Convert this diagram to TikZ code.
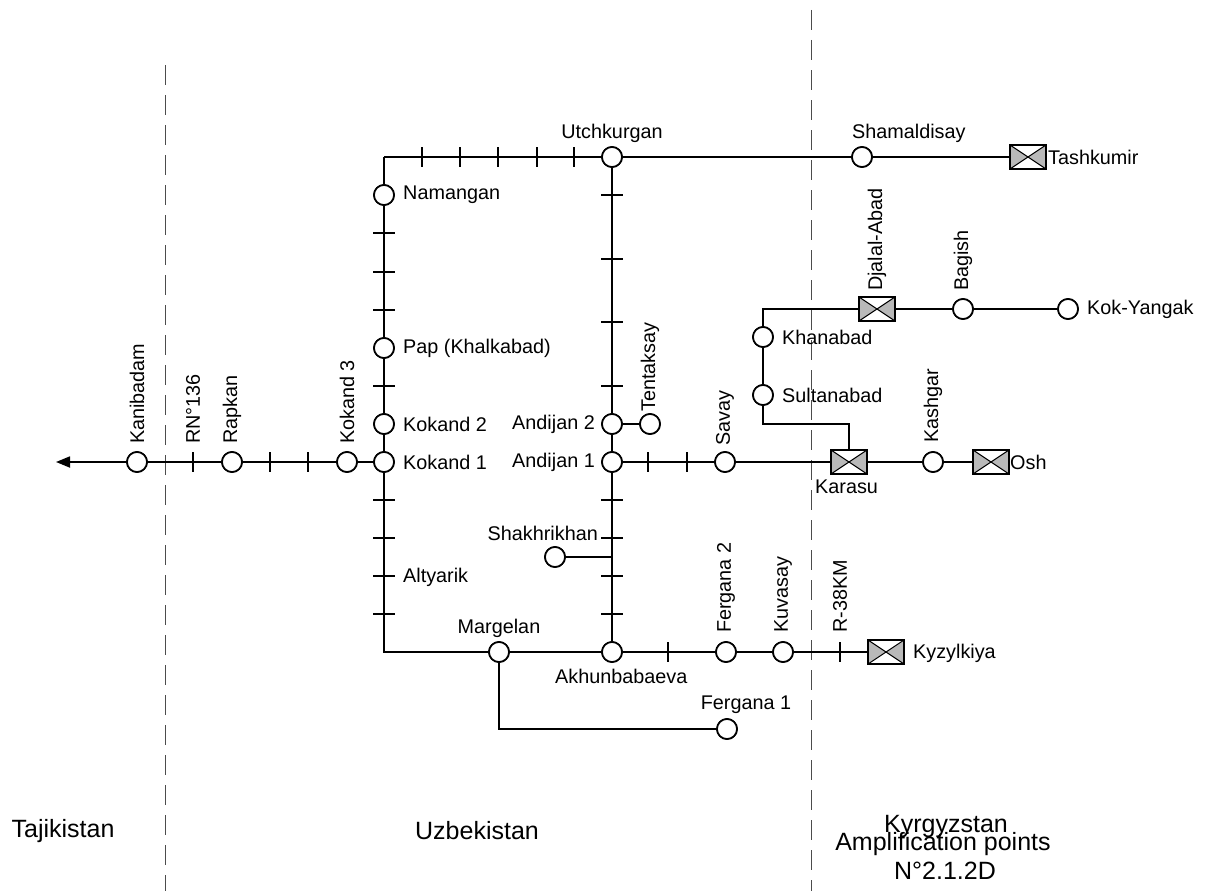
\documentclass[tikz,border=0pt]{standalone}
\usepackage{fontspec}
\setmainfont{Liberation Sans}
\usetikzlibrary{arrows.meta}
\begin{document}
\begin{tikzpicture}[x=1pt,y=-1pt,
  rail/.style={line width=1.8pt},
  border/.style={line width=1pt, dash pattern=on 20pt off 10pt, black!70},
  st/.style={circle, draw, line width=1.7pt, fill=white, minimum size=20pt, inner sep=0pt},
  bx/.style={rectangle, draw, line width=1.7pt, fill=white, minimum width=36pt, minimum height=24pt, inner sep=0pt,
    path picture={
      \fill[gray!55] (path picture bounding box.north west) -- (path picture bounding box.center) -- (path picture bounding box.south west) -- cycle;
      \fill[gray!55] (path picture bounding box.north east) -- (path picture bounding box.center) -- (path picture bounding box.south east) -- cycle;
      \draw[line width=1pt] (path picture bounding box.north west) -- (path picture bounding box.south east);
      \draw[line width=1pt] (path picture bounding box.south west) -- (path picture bounding box.north east);
    }},
  lbl/.style={inner sep=0pt, font=\fontsize{19.8}{22}\selectfont},
  vl/.style={lbl, rotate=90, anchor=west},
  big/.style={inner sep=0pt, font=\fontsize{25}{27}\selectfont}
]
\useasboundingbox (0,0) rectangle (1206,891);
\fill[white] (0,0) rectangle (1206,891);

% borders
\draw[border] (165,65) -- (165,891);
\draw[border] (811,10) -- (811,891);

% corner / junction coordinates
\coordinate (nw) at (384,157);
\coordinate (sw) at (384,652);
\coordinate (mdown) at (499,729);
\coordinate (jdj) at (763,309);
\coordinate (jsu) at (763,424);
\coordinate (jka) at (849,424);
\coordinate (jsh) at (612,557);
\coordinate (arrowend) at (56,462);

% stations
\node[st] (utch) at (612,157) {};
\node[st] (sham) at (862,157) {};
\node[bx] (tash) at (1028,157) {};
\node[st] (nam) at (384,195) {};
\node[st] (pap) at (384,348) {};
\node[st] (kok2) at (384,424) {};
\node[st] (kok1) at (384,462) {};
\node[st] (kok3) at (347,462) {};
\node[st] (rap) at (232,462) {};
\node[st] (kani) at (137,462) {};
\node[st] (and2) at (612,424) {};
\node[st] (tent) at (650,424) {};
\node[st] (and1) at (612,462) {};
\node[st] (sav) at (725,462) {};
\node[bx] (kar) at (849,462) {};
\node[st] (kash) at (933,462) {};
\node[bx] (osh) at (991,462) {};
\node[st] (khan) at (763,337) {};
\node[st] (sult) at (763,395) {};
\node[bx] (djal) at (877,309) {};
\node[st] (bag) at (963,309) {};
\node[st] (koky) at (1068,309) {};
\node[st] (shak) at (555,557) {};
\node[st] (marg) at (499,652) {};
\node[st] (akh) at (612,652) {};
\node[st] (ferg2) at (726,652) {};
\node[st] (kuv) at (783,652) {};
\node[bx] (kyz) at (886,652) {};
\node[st] (ferg1) at (727,729) {};

% lines
\draw[rail] (nw) -- (utch) -- (sham) -- (tash);
\draw[rail] (nw) -- (nam) -- (pap) -- (kok2) -- (kok1) -- (sw) -- (marg) -- (akh) -- (ferg2) -- (kuv) -- (kyz);
\draw[rail] (utch) -- (and2) -- (and1) -- (akh);
\draw[rail] (and2) -- (tent);
\draw[rail] (and1) -- (sav) -- (kar) -- (kash) -- (osh);
\draw[rail] (kok1) -- (kok3) -- (rap) -- (kani);
\draw[rail, -{Triangle[length=14pt,width=11pt]}] (kani) -- (arrowend);
\draw[rail] (jsh) -- (shak);
\draw[rail] (marg) -- (mdown) -- (ferg1);
\draw[rail] (kar) -- (jka) -- (jsu) -- (sult) -- (khan) -- (jdj) -- (djal) -- (bag) -- (koky);

% redraw nodes on top
\foreach \n in {utch,sham,nam,pap,kok2,kok1,kok3,rap,kani,and2,tent,and1,sav,kash,khan,sult,bag,koky,shak,marg,akh,ferg2,kuv,ferg1}
  \node[st] at (\n) {};
\foreach \n in {tash,kar,osh,djal,kyz}
  \node[bx] at (\n) {};

% ticks on horizontal lines (vertical strokes)
\foreach \x/\y in {422/157,460/157,498/157,537/157,574/157,193/462,270/462,308/462,648/462,687/462,668/652,840/652}
  \draw[rail] (\x,\y-10) -- (\x,\y+10);
% ticks on vertical lines (horizontal strokes)
\foreach \y in {233,272,310,386,500,538,576,614}
  \draw[rail] (373,\y) -- (395,\y);
\foreach \y in {195,259,322,386,500,538,576,614}
  \draw[rail] (601,\y) -- (623,\y);

% labels
\node[lbl] at (612,133) {Utchkurgan};
\node[lbl, anchor=west] at (852,133) {Shamaldisay};
\node[lbl, anchor=west] at (1048,157) {Tashkumir};
\node[lbl, anchor=west] at (403,195) {Namangan};
\node[lbl, anchor=west] at (403,348) {Pap (Khalkabad)};
\node[lbl, anchor=west] at (403,424) {Kokand 2};
\node[lbl, anchor=west] at (403,462) {Kokand 1};
\node[lbl, anchor=east] at (595,424) {Andijan 2};
\node[lbl, anchor=east] at (595,462) {Andijan 1};
\node[lbl, anchor=east] at (598,533) {Shakhrikhan};
\node[lbl, anchor=west] at (403,577) {Altyarik};
\node[lbl] at (499,628) {Margelan};
\node[lbl, anchor=west] at (555,676) {Akhunbabaeva};
\node[lbl] at (746,705) {Fergana 1};
\node[lbl, anchor=west] at (913,653) {Kyzylkiya};
\node[lbl, anchor=west] at (815,487) {Karasu};
\node[lbl, anchor=west] at (1010,462) {Osh};
\node[lbl, anchor=west] at (782,337) {Khanabad};
\node[lbl, anchor=west] at (782,395) {Sultanabad};
\node[lbl, anchor=west] at (1087,309) {Kok-Yangak};

\node[vl] at (137,444) {Kanibadam};
\node[vl] at (193,444) {RN°136};
\node[vl] at (232,444) {Rapkan};
\node[vl] at (347,444) {Kokand 3};
\node[vl] at (650,412) {Tentaksay};
\node[vl] at (725,446) {Savay};
\node[vl] at (933,443) {Kashgar};
\node[vl] at (877,291) {Djalal-Abad};
\node[vl] at (963,291) {Bagish};
\node[vl] at (726,633) {Fergana 2};
\node[vl] at (783,633) {Kuvasay};
\node[vl] at (840,633) {R-38KM};

% country / footer labels
\node[big] at (63,831) {Tajikistan};
\node[big] at (477,831) {Uzbekistan};
\node[big] at (946,826) {Kyrgyzstan};
\node[big] at (943,844) {Amplification points};
\node[big] at (945,871) {N°2.1.2D};
\end{tikzpicture}
\end{document}
